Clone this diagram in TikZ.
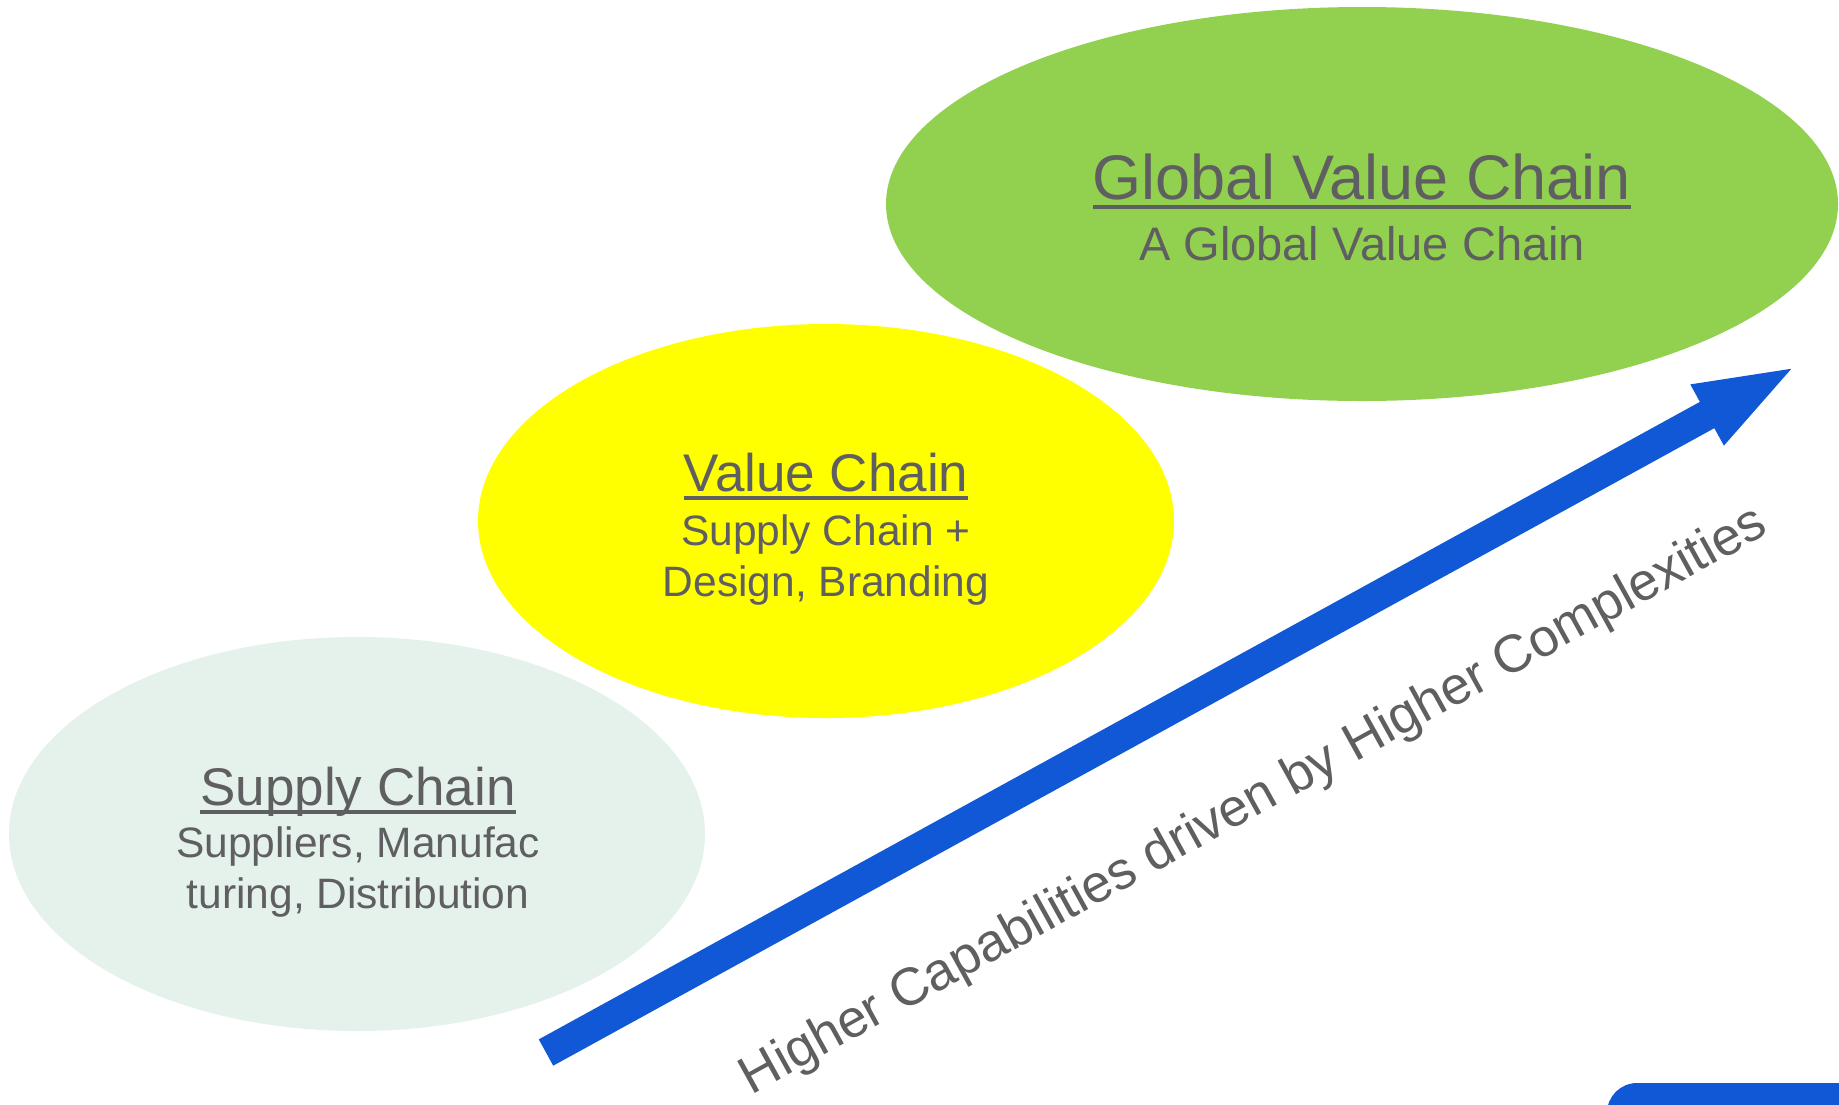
\documentclass[tikz,border=0pt]{standalone}
\usepackage{fontspec}
\setmainfont{Liberation Sans}
\usetikzlibrary{arrows.meta,shapes.geometric}
\definecolor{gvcgreen}{HTML}{92D050}
\definecolor{vcyellow}{HTML}{FFFF00}
\definecolor{scmint}{HTML}{E5F2EB}
\definecolor{upblue}{HTML}{1058D6}
\definecolor{txtgray}{HTML}{5F5F62}
\newcommand{\ulbar}[2][-4.5pt]{\setbox0\hbox{#2}\rlap{\rule[#1]{\wd0}{2pt}}\box0}

\begin{document}
\begin{tikzpicture}[x=0.5pt, y=-0.5pt,
	blob/.style={ellipse, inner sep=0pt, minimum width=#1},
	ttl/.style={anchor=base, text=txtgray, inner sep=0pt, font=\fontsize{26.5}{32}\selectfont},
	sub/.style={anchor=base, text=txtgray, inner sep=0pt, font=\fontsize{21.25}{26}\selectfont}]
		\clip (0,0) rectangle (1839,1104);
		\fill[white] (0,0) rectangle (1839,1104);

		\node (sc)[blob=348pt, minimum height=197pt, fill=scmint] at (357,834) {};
		\node (vc)[blob=348pt, minimum height=197pt, fill=vcyellow] at (826,521) {};
		\node (gvc)[blob=476pt, minimum height=197pt, fill=gvcgreen] at (1362,204) {};

		\node (sct)[ttl] at (358,805) {\ulbar{Supply Chain}};
		\node (scs1)[sub] at (358,857) {Suppliers, Manufac};
		\node (scs2)[sub] at (358,908) {turing, Distribution};

		\node (vct)[ttl] at (826,491) {\ulbar{Value Chain}};
		\node (vcs1)[sub] at (826,545) {Supply Chain +};
		\node (vcs2)[sub] at (826,596) {Design, Branding};

		\node (gvct)[ttl, font=\fontsize{31.5}{38}\selectfont] at (1362,199) {\ulbar[-5pt]{Global Value Chain}};
		\node (gvcs)[sub, font=\fontsize{23.5}{28}\selectfont] at (1362,260) {A Global Value Chain};

		\coordinate (low) at (546,1052.5);
		\coordinate (high) at (1800,364);
		\draw [upblue, line width=15pt, -{Triangle[length=53pt, width=30pt]}](low) -- (high);

		\node (cap)[ttl, rotate=28.9] at (1261,814) {Higher Capabilities driven by Higher Complexities};

		\fill[upblue, rounded corners=15pt] (1607,1083) rectangle (1950,1250);
	\end{tikzpicture}
\end{document}
